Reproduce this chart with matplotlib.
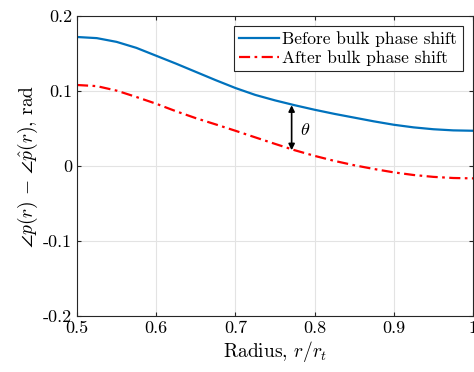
import numpy as np
import matplotlib.pyplot as plt

plt.rcParams['font.family'] = 'serif'
plt.rcParams['font.serif'] = ['cmr10']
plt.rcParams['mathtext.fontset'] = 'cm'
plt.rcParams['axes.formatter.use_mathtext'] = True

# values
radius = [0.5, 0.525, 0.55, 0.575, 0.6, 0.625, 0.65, 0.675, 0.7, 0.725, 0.75,
          0.775, 0.8, 0.825, 0.85, 0.875, 0.9, 0.925, 0.95, 0.975, 1.0]
before = [0.172, 0.1705, 0.1655, 0.1575, 0.147, 0.1365, 0.1255, 0.1145, 0.104, 0.0948, 0.0875,
          0.081, 0.075, 0.0695, 0.0645, 0.0595, 0.055, 0.0515, 0.049, 0.0475, 0.047]
after = [0.108, 0.1065, 0.1005, 0.092, 0.083, 0.073, 0.0638, 0.0555, 0.047, 0.0382, 0.0295,
         0.021, 0.0135, 0.0068, 0.001, -0.004, -0.0085, -0.012, -0.0145, -0.016, -0.0165]

xticks = [0.5, 0.6, 0.7, 0.8, 0.9, 1.0]
xticklabels = ['0.5', '0.6', '0.7', '0.8', '0.9', '1']
yticks = [-0.2, -0.1, 0, 0.1, 0.2]
yticklabels = ['-0.2', '-0.1', '0', '0.1', '0.2']

arrow_x = 0.771
arrow_top = 0.081
arrow_bottom = 0.021

fig = plt.figure(figsize=(4.74, 3.72), dpi=100)
ax = fig.add_axes([77/474, 56/372, 396/474, 300/372])

ax.plot(radius, before, color='#0072BD', lw=1.6, label='Before bulk phase shift')
ax.plot(radius, after, color='#FF0000', lw=1.6, ls=(0, (5, 2, 1.2, 2)),
        label='After bulk phase shift')

ax.annotate('', xy=(arrow_x, arrow_bottom), xytext=(arrow_x, arrow_top),
            arrowprops=dict(arrowstyle='<|-|>', color='k', lw=1.2,
                            mutation_scale=9, shrinkA=0, shrinkB=0))
ax.text(arrow_x + 0.011, (arrow_top + arrow_bottom) / 2 - 0.003, r'$\theta$',
        fontsize=13, va='center', ha='left')

ax.set_xlim(0.5, 1.0)
ax.set_ylim(-0.2, 0.2)
ax.set_xticks(xticks)
ax.set_xticklabels(xticklabels, fontsize=13)
ax.set_yticks(yticks)
ax.set_yticklabels(yticklabels, fontsize=13)
ax.tick_params(direction='in', length=3, top=True, right=True, color='#262626')
ax.grid(True, color='#e3e3e3', lw=0.8)
ax.set_axisbelow(True)
for s in ax.spines.values():
    s.set_color('#262626')
    s.set_linewidth(0.8)

ax.set_xlabel(r'Radius, $r/r_t$', fontsize=14, labelpad=2)
ax.set_ylabel(r'$\angle p(r)\,-\,\angle\hat{p}(r)$, rad', fontsize=14, labelpad=2)

leg = ax.legend(loc='upper right', fontsize=12.5, fancybox=False, framealpha=1,
                edgecolor='#262626', handlelength=2.3, handletextpad=0.2,
                borderpad=0.3, labelspacing=0.15, borderaxespad=0.6)
leg.get_frame().set_linewidth(0.8)

fig.savefig('out.png', dpi=100)
